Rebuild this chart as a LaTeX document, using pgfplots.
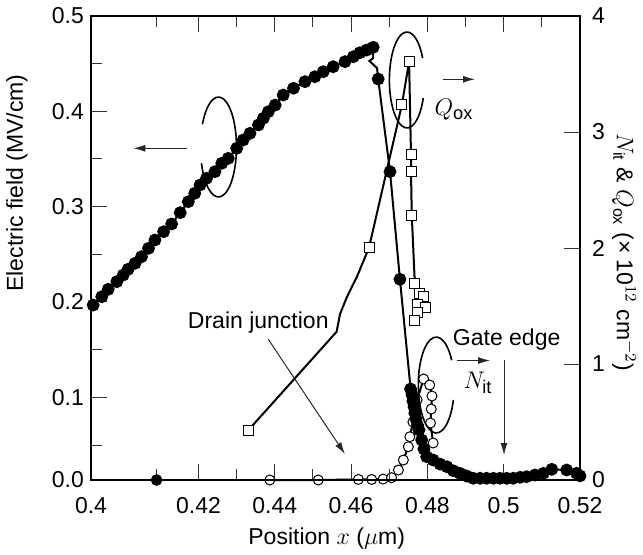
\documentclass[border=0pt]{standalone}
\usepackage{amsmath}
\usepackage{fontspec}
\setmainfont{Liberation Sans}
\usepackage{pgfplots}
\pgfplotsset{compat=1.18}
\usetikzlibrary{arrows.meta}
\newcommand\tkfont{\fontsize{11.5}{13}\selectfont}

\begin{document}
\begin{tikzpicture}[font=\tkfont]
% ---------- right axis: N_it and Q_ox ----------
\begin{axis}[
  scale only axis, width=244.5pt, height=232pt,
  xmin=0.4, xmax=0.52, ymin=0, ymax=4,
  x coord trafo/.code={\pgfmathparse{#1-0.40891*max(0.42-#1,0)}},
  axis x line=none,
  axis y line*=right,
  axis line style={-, line width=1pt},
  ytick={0,1,2,3,4}, yticklabels={0,1,2,3,4},
  tick align=inside,
  major tick length=8pt,
  every tick/.style={black!80, line width=0.5pt},
  tick label style={font=\tkfont},
  yticklabel style={xshift=2.5pt},
  clip=false,
]
% Q_ox line
\addplot[black, line width=1pt, no marks] coordinates {
(0.4331,0.431) (0.4562,1.278) (0.4571,1.431) (0.4589,1.578) (0.4615,1.750)
(0.4647,2.004) (0.4733,3.233) (0.4752,3.606) (0.4757,2.802) (0.4757,2.658)
(0.4759,2.284) (0.4767,1.698) (0.4778,1.612) (0.4791,1.578) (0.4775,1.509)
(0.4794,1.483) (0.4773,1.440) (0.4767,1.371)
};
% Q_ox markers
\addplot[only marks, mark=square*, mark size=2.5pt, mark options={fill=white, draw=black, line width=0.5pt}] coordinates {
(0.4331,0.431) (0.4647,2.004) (0.4733,3.233) (0.4752,3.606) (0.4757,2.802) (0.4757,2.658)
(0.4759,2.284) (0.4767,1.698) (0.4778,1.612) (0.4791,1.578) (0.4775,1.509)
(0.4794,1.483) (0.4773,1.440) (0.4767,1.371)
};
% N_it
\addplot[black, line width=1pt, mark=*, mark size=2.5pt, mark options={fill=white, draw=black, line width=0.5pt}] coordinates {
(0.4387,0) (0.4514,0) (0.4619,0.005) (0.4654,0.005) (0.4684,0.008) (0.4706,0.02)
(0.4724,0.086) (0.4737,0.172) (0.4750,0.287) (0.4754,0.373) (0.4762,0.500)
(0.4773,0.690) (0.4790,0.871) (0.4806,0.819) (0.4812,0.724) (0.4810,0.612)
(0.4808,0.491) (0.4815,0.319)
};
\end{axis}

% ---------- left axis: electric field ----------
\begin{axis}[
  name=ax,
  scale only axis, width=244.5pt, height=232pt,
  xmin=0.4, xmax=0.52, ymin=0, ymax=0.5,
  x coord trafo/.code={\pgfmathparse{#1-0.40891*max(0.42-#1,0)}},
  y coord trafo/.code={\pgfmathparse{#1+0.13244*max(0.1-#1,0)}},
  xtick={0.4,0.42,0.44,0.46,0.48,0.5,0.52},
  xticklabels={0.4,0.42,0.44,0.46,0.48,0.5,0.52},
  minor xtick={0.4122,0.43,0.45,0.47,0.49,0.51},
  ytick={0,0.1,0.2,0.3,0.4,0.5},
  yticklabels={0.0,0.1,0.2,0.3,0.4,0.5},
  minor ytick={0.0423,0.15,0.25,0.35,0.45},
  ytick pos=left, xtick pos=both,
  tick align=inside,
  major tick length=8pt, minor tick length=5.5pt,
  axis line style={line width=1pt},
  every tick/.style={black!80, line width=0.5pt},
  tick label style={font=\tkfont},
  xticklabel style={yshift=-5pt},
  clip=false,
]
\addplot[black, line width=1pt, mark=*, mark size=2.7pt] coordinates {
(0.4004,0.1968) (0.4020,0.2055) (0.4032,0.2133) (0.4048,0.2213) (0.4060,0.2283)
(0.4069,0.2343) (0.4082,0.2406) (0.4094,0.2475) (0.4107,0.2563) (0.4119,0.2650)
(0.4135,0.2737) (0.4150,0.2818) (0.4166,0.2937) (0.4181,0.3052) (0.4193,0.3140)
(0.4204,0.3227) (0.4221,0.3297) (0.4243,0.3367) (0.4261,0.3455) (0.4278,0.3507)
(0.4300,0.3612) (0.4317,0.3699) (0.4335,0.3769) (0.4357,0.3857) (0.4370,0.3927)
(0.4383,0.3996) (0.4401,0.4066) (0.4422,0.4171) (0.4449,0.4242) (0.4479,0.4311)
(0.4505,0.4363) (0.4527,0.4416) (0.4553,0.4468) (0.4584,0.4521) (0.4606,0.4573)
(0.4623,0.4615) (0.4641,0.4643) (0.4658,0.4672)
};
\addplot[black, line width=1pt, no marks] coordinates {
(0.4658,0.4672) (0.4658,0.4559) (0.4648,0.4528) (0.4668,0.4454) (0.4671,0.4339)
};
\addplot[black, line width=1pt, mark=*, mark size=2.7pt] coordinates {
(0.4671,0.4339) (0.4702,0.3367) (0.4728,0.2238) (0.4756,0.1087) (0.4760,0.1024)
(0.4762,0.0955) (0.4765,0.0883) (0.4767,0.0810) (0.4770,0.0738) (0.4774,0.0665)
(0.4778,0.0605) (0.4785,0.0484) (0.4791,0.0375) (0.4798,0.0282) (0.4815,0.0242)
(0.4833,0.0193) (0.4851,0.0161) (0.4868,0.0112) (0.4885,0.0081) (0.4903,0.0048)
(0.4920,0.0021) (0.4938,0.0021) (0.4955,0.0021) (0.4973,0.0021) (0.4990,0.0021)
(0.5008,0.0021) (0.5025,0.0021) (0.5043,0.0033) (0.5060,0.0040) (0.5082,0.0060)
(0.5104,0.0081) (0.5126,0.0129) (0.5165,0.0121) (0.5191,0.0081) (0.5200,0.0050)
};
\addplot[only marks, mark=*, mark size=2.7pt] coordinates {(0.4122,0)};

% annotations
\draw[line width=0.8pt] ([shift={(199:9pt and 25pt)}]rel axis cs:0.2607,0.7177)
  arc[start angle=199, end angle=513, x radius=9pt, y radius=25pt];
\draw[line width=0.8pt] ([shift={(27:8.8pt and 24pt)}]rel axis cs:0.6462,0.8621)
  arc[start angle=27, end angle=338, x radius=8.8pt, y radius=24pt];
\draw[line width=0.8pt] ([shift={(31:9pt and 24pt)}]rel axis cs:0.7061,0.2047)
  arc[start angle=31, end angle=342, x radius=9pt, y radius=24pt];

\draw[black!85, line width=0.5pt, -{Latex[length=6pt,width=3.5pt]}]
  (rel axis cs:0.1957,0.7149) -- (rel axis cs:0.0865,0.7149);
\draw[black!85, line width=0.5pt, -{Latex[length=6pt,width=3.5pt]}]
  (rel axis cs:0.7204,0.8636) -- (rel axis cs:0.7853,0.8636);
\draw[black!85, line width=0.5pt, -{Latex[length=6pt,width=3.5pt]}]
  (rel axis cs:0.7478,0.2575) -- (rel axis cs:0.8160,0.2575);
\draw[black!85, line width=0.5pt, -{Latex[length=6pt,width=3.5pt]}]
  (rel axis cs:0.8446,0.2586) -- (rel axis cs:0.8446,0.0539);
\draw[black!85, line width=0.5pt, -{Latex[length=6pt,width=3.5pt]}]
  (rel axis cs:0.3626,0.3032) -- (rel axis cs:0.5194,0.056);

\node at (rel axis cs:0.7423,0.7974) {\fontsize{13}{14}\selectfont$Q_{\text{ox}}$};
\node at (rel axis cs:0.7914,0.2091) {\fontsize{13}{14}\selectfont$N_{\text{it}}$};
\node at (rel axis cs:0.850,0.3017) {Gate edge};
\node at (rel axis cs:0.3421,0.3394) {Drain junction};

\node[rotate=90] at (rel axis cs:-0.1513,0.64) {Electric field (MV/cm)};
\node[rotate=-90] at (rel axis cs:1.09,0.491) {$N_{\text{it}}$ \& $Q_{\text{ox}}$ (× 10$^{12}$ cm$^{-2}$)};
\node at (rel axis cs:0.482,-0.1272) {Position $x$ ($\mu$m)};
\end{axis}

\pgfresetboundingbox
\path[use as bounding box] ([shift={(-45.5pt,-37pt)}]ax.south west) rectangle ([shift={(31.5pt,8pt)}]ax.north east);
\end{tikzpicture}
\end{document}
